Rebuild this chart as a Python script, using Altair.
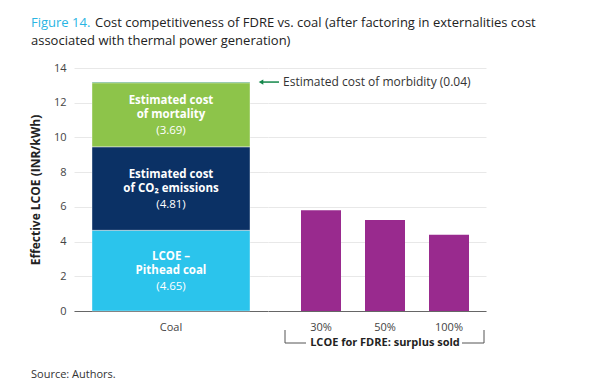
import altair as alt
import pandas as pd

# ---------------- data ----------------
coal_segments = ["LCOE – Pithead coal", "Estimated cost of CO₂ emissions",
                 "Estimated cost of mortality", "Estimated cost of morbidity"]
coal_values = [4.65, 4.81, 3.69, 0.04]
seg_line1 = ["LCOE –", "Estimated cost", "Estimated cost", ""]
seg_line2 = ["Pithead coal", "of CO₂ emissions", "of mortality", ""]
coal_colors = ["#2bc4ec", "#0b3165", "#8dc44a", "#13874a"]

fdre_labels = ["30%", "50%", "100%"]
fdre_values = [5.80, 5.25, 4.39]
fdre_color = "#992a8e"

y_ticks = [0, 2, 4, 6, 8, 10, 12, 14]

title_lead = "Figure 14."
title_line1 = "Cost competitiveness of FDRE vs. coal (after factoring in externalities cost"
title_line2 = "associated with thermal power generation)"
source_text = "Source: Authors."
morbidity_note = "Estimated cost of morbidity (0.04)"
bracket_text = "LCOE for FDRE: surplus sold"
y_title = "Effective LCOE (INR/kWh)"

FONT = "Open Sans"
H = 243
W1 = 194
W2 = 218

coal = pd.DataFrame({"cat": "Coal", "segment": coal_segments, "value": coal_values,
                     "l1": seg_line1, "l2": seg_line2})
coal["end"] = coal["value"].cumsum()
coal["start"] = coal["end"] - coal["value"]
coal["mid"] = (coal["start"] + coal["end"]) / 2
coal["vlabel"] = coal["value"].map(lambda v: f"({v:.2f})")
labels = coal[coal["l1"] != ""]

total = pd.DataFrame({"total": [coal["end"].iloc[-1]]})
fdre = pd.DataFrame({"cat": fdre_labels, "value": fdre_values})
dummy = pd.DataFrame({"a": [0]})

yscale = alt.Scale(domain=[0, 14], nice=False)

xaxis = dict(title=None, labelAngle=0, ticks=False, labelPadding=10, labelFontSize=11,
             labelColor="#444", labelFont=FONT, domainColor="#666", domainWidth=1.2)

left_y_axis = alt.Axis(values=y_ticks, title=y_title, domain=False, ticks=False,
                       labelPadding=8, labelFontSize=11, labelColor="#444", labelFont=FONT,
                       titleFontSize=12, titleFontWeight="bold", titleColor="#222",
                       titleFont=FONT, titlePadding=11, gridColor="#e8e8e8")

xL = alt.X("cat:N", axis=alt.Axis(**xaxis), scale=alt.Scale(paddingInner=0, paddingOuter=0))

bars = alt.Chart(coal).mark_bar(size=158, stroke="white", strokeWidth=0.4).encode(
    x=xL,
    y=alt.Y("start:Q", scale=yscale, axis=left_y_axis),
    y2="end:Q",
    color=alt.Color("segment:N", scale=alt.Scale(domain=coal_segments, range=coal_colors), legend=None),
)

def seg_text(field, dy, weight):
    return alt.Chart(labels).mark_text(font=FONT, fontSize=11.5, fontWeight=weight,
                                       color="white", dy=dy).encode(
        x=xL, y=alt.Y("mid:Q", scale=yscale, axis=left_y_axis), text=f"{field}:N")

t1 = seg_text("l1", -14, "bold")
t2 = seg_text("l2", 0, "bold")
t3 = seg_text("vlabel", 16.5, "normal")

def free_text(txt, x, y, size, color, weight="normal"):
    return alt.Chart(dummy).mark_text(font=FONT, fontSize=size, color=color, align="left",
                                      baseline="middle", fontWeight=weight).encode(
        x=alt.value(x), y=alt.value(y), text=alt.value(txt))

title_a = free_text(title_lead, -43, -45, 13, "#29b5e3")
title_b = free_text(title_line1, 21, -45, 13, "#222")
title_c = free_text(title_line2, -43, -27, 13, "#222")
source = free_text(source_text, -43, 307, 11, "#333")

left = alt.layer(bars, t1, t2, t3, title_a, title_b, title_c, source).properties(width=W1, height=H)

# ---------------- right panel ----------------
xR = alt.X("cat:N", axis=alt.Axis(**xaxis), sort=fdre_labels,
           scale=alt.Scale(domain=fdre_labels, paddingInner=0, paddingOuter=0.203, align=0.808))
right_y_axis = alt.Axis(values=y_ticks, title=None, labels=False, domain=False, ticks=False,
                        gridColor="#e8e8e8")

fbars = alt.Chart(fdre).mark_bar(size=40, color=fdre_color).encode(
    x=xR, y=alt.Y("value:Q", scale=yscale, axis=right_y_axis))

arrow_line = alt.Chart(total).mark_rule(color="#13874a", strokeWidth=1.5).encode(
    x=alt.value(-6), x2=alt.value(11), y=alt.Y("total:Q", scale=yscale, axis=right_y_axis))
arrow_head = alt.Chart(total).mark_point(shape="triangle-left", filled=True, color="#13874a",
                                         size=28, opacity=1).encode(
    x=alt.value(-7), y=alt.Y("total:Q", scale=yscale, axis=right_y_axis))
arrow_text = alt.Chart(total).mark_text(font=FONT, fontSize=12, color="#333", align="left",
                                        baseline="middle").encode(
    x=alt.value(15), y=alt.Y("total:Q", scale=yscale, axis=right_y_axis),
    text=alt.value(morbidity_note))

rule_style = dict(color="#555", strokeWidth=1)
b1 = alt.Chart(dummy).mark_rule(**rule_style).encode(x=alt.value(17), y=alt.value(262), y2=alt.value(275))
b2 = alt.Chart(dummy).mark_rule(**rule_style).encode(x=alt.value(216), y=alt.value(262), y2=alt.value(275))
b3 = alt.Chart(dummy).mark_rule(**rule_style).encode(x=alt.value(17), x2=alt.value(38), y=alt.value(275))
b4 = alt.Chart(dummy).mark_rule(**rule_style).encode(x=alt.value(194), x2=alt.value(216), y=alt.value(275))
btext = alt.Chart(dummy).mark_text(font=FONT, fontSize=11, fontWeight="bold", color="#222",
                                   baseline="middle").encode(
    x=alt.value(117), y=alt.value(275), text=alt.value(bracket_text))

right = alt.layer(fbars, arrow_line, arrow_head, arrow_text, b1, b2, b3, b4, btext).properties(width=W2, height=H)

chart = alt.hconcat(left, right, spacing=0, bounds="flush").properties(
    padding={"left": 21, "top": 9, "right": 5, "bottom": 5}
).configure_view(stroke=None).configure_axis(gridColor="#e8e8e8")

chart.save("out.html", embed_options={"renderer": "svg", "actions": False})
